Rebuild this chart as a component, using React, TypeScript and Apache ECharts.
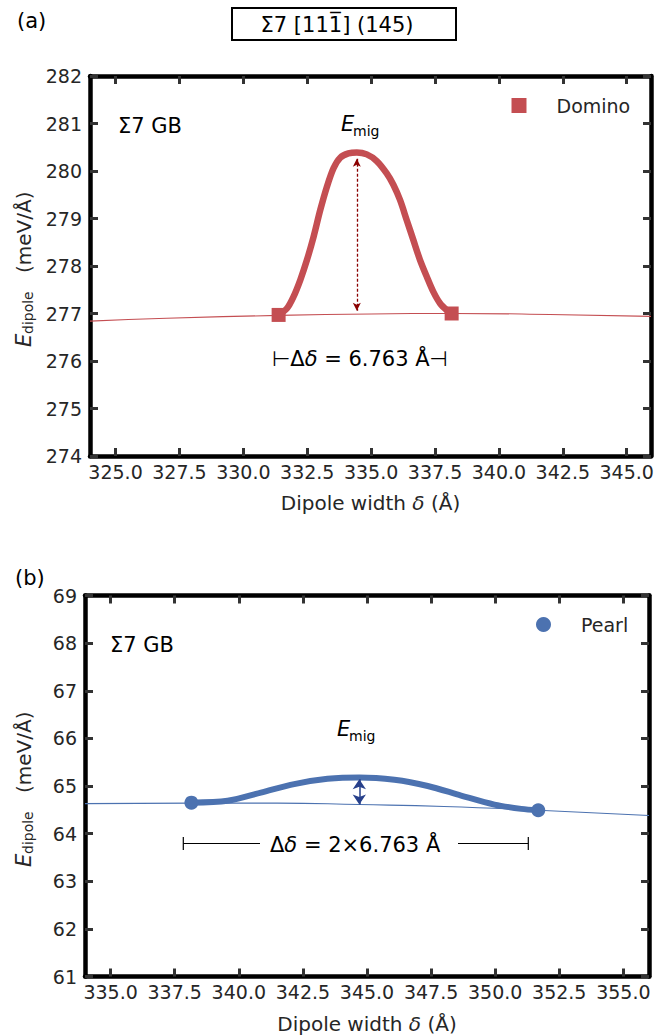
import React, { useEffect, useRef } from "react";
import * as echarts from "echarts";

const FONT = "'DejaVu Sans', sans-serif";
const RED = "#c44e52";
const BLUE = "#4c72b0";
const TICK_COLOR = "#333333";
const LABEL_COLOR = "#262626";

// ---------- Panel (a): Domino ----------
const xTicksA = [325, 327.5, 330, 332.5, 335, 337.5, 340, 342.5, 345];
const yTicksA = [274, 282];
const dominoEnds = [
  [331.38, 276.97],
  [338.15, 277.0],
];
const dominoCurve = [
  [331.38, 276.97],
  [331.71, 277.11],
  [331.96, 277.35],
  [332.23, 277.71],
  [332.49, 278.13],
  [332.75, 278.62],
  [333.01, 279.18],
  [333.27, 279.67],
  [333.53, 280.06],
  [333.79, 280.28],
  [334.11, 280.37],
  [334.44, 280.39],
  [334.83, 280.35],
  [335.22, 280.21],
  [335.61, 279.95],
  [335.87, 279.71],
  [336.13, 279.39],
  [336.39, 278.97],
  [336.65, 278.55],
  [336.91, 278.13],
  [337.18, 277.77],
  [337.43, 277.46],
  [337.7, 277.21],
  [337.96, 277.07],
  [338.15, 277.0],
];
const dominoFit = [
  [324.0, 276.84],
  [327.0, 276.9],
  [331.4, 276.96],
  [335.0, 276.99],
  [338.2, 277.0],
  [342.0, 276.98],
  [345.95, 276.94],
];
const dominoArrow = [334.44, 280.26, 277.06];

// ---------- Panel (b): Pearl ----------
const xTicksB = [335, 337.5, 340, 342.5, 345, 347.5, 350, 352.5, 355];
const yTicksB = [61, 69];
const pearlEnds = [
  [338.15, 64.65],
  [351.68, 64.49],
];
const pearlCurve = [
  [338.15, 64.65],
  [339.56, 64.69],
  [340.86, 64.86],
  [342.16, 65.04],
  [343.46, 65.15],
  [344.7, 65.18],
  [346.07, 65.13],
  [347.37, 65.0],
  [348.67, 64.8],
  [349.97, 64.61],
  [351.02, 64.52],
  [351.68, 64.49],
];
const pearlFit = [
  [334.0, 64.63],
  [338.15, 64.64],
  [341.5, 64.64],
  [344.7, 64.61],
  [348.0, 64.57],
  [351.7, 64.49],
  [356.0, 64.38],
];
const pearlArrow = [344.7, 65.14, 64.61];

const xRangeA = [324.0, 345.95];
const xRangeB = [334.0, 356.0];

function xAxes(gridIndex: number, range: number[], ticks: number[]) {
  const base = {
    type: "value",
    gridIndex,
    min: range[0],
    max: range[1],
    splitLine: { show: false },
    axisLine: { show: true, onZero: false, lineStyle: { color: "#000", width: 4.5 } },
    axisTick: {
      show: true,
      inside: true,
      length: 8,
      customValues: ticks,
      lineStyle: { color: TICK_COLOR, width: 3 },
    },
  };
  return [
    {
      ...base,
      position: "bottom",
      axisLabel: {
        show: true,
        customValues: ticks,
        margin: 6,
        fontSize: 19,
        fontFamily: FONT,
        color: LABEL_COLOR,
        formatter: (v: number) => v.toFixed(1),
      },
      name: "{a|Dipole width }{i|δ}{a| (Å)}",
      nameLocation: "middle",
      nameGap: 37,
      nameTextStyle: {
        fontSize: 20,
        fontFamily: FONT,
        color: LABEL_COLOR,
        rich: {
          a: { fontSize: 20, fontFamily: FONT, color: LABEL_COLOR },
          i: { fontSize: 20, fontFamily: FONT, color: LABEL_COLOR, fontStyle: "italic" },
        },
      },
    },
    { ...base, position: "top", axisLabel: { show: false } },
  ];
}

function yAxes(gridIndex: number, range: number[]) {
  const base = {
    type: "value",
    gridIndex,
    min: range[0],
    max: range[1],
    interval: 1,
    splitLine: { show: false },
    axisLine: { show: true, onZero: false, lineStyle: { color: "#000", width: 4.5 } },
    axisTick: { show: true, inside: true, length: 8, lineStyle: { color: TICK_COLOR, width: 3 } },
  };
  return [
    {
      ...base,
      position: "left",
      axisLabel: { show: true, margin: 8, fontSize: 19, fontFamily: FONT, color: LABEL_COLOR },
    },
    { ...base, position: "right", axisLabel: { show: false } },
  ];
}

function yLabel(cx: number, cy: number) {
  return {
    type: "group",
    x: cx,
    y: cy,
    rotation: Math.PI / 2,
    children: [
      {
        type: "text",
        x: -77,
        y: 0,
        style: {
          text: "E",
          fontSize: 21,
          fontStyle: "italic",
          fontFamily: FONT,
          fill: LABEL_COLOR,
          align: "left",
          verticalAlign: "middle",
        },
      },
      {
        type: "text",
        x: -64,
        y: 4,
        style: {
          text: "dipole",
          fontSize: 14,
          fontFamily: FONT,
          fill: LABEL_COLOR,
          align: "left",
          verticalAlign: "middle",
        },
      },
      {
        type: "text",
        x: -3,
        y: 0,
        style: {
          text: "(meV/Å)",
          fontSize: 20,
          fontFamily: FONT,
          fill: LABEL_COLOR,
          align: "left",
          verticalAlign: "middle",
        },
      },
    ],
  };
}

function emig(x: number, y: number) {
  return {
    type: "group",
    x,
    y,
    children: [
      {
        type: "text",
        x: 0,
        y: 0,
        style: {
          text: "E",
          fontSize: 21,
          fontStyle: "italic",
          fontFamily: FONT,
          fill: "#000",
          align: "left",
          verticalAlign: "middle",
        },
      },
      {
        type: "text",
        x: 12,
        y: 7,
        style: {
          text: "mig",
          fontSize: 14,
          fontFamily: FONT,
          fill: "#000",
          align: "left",
          verticalAlign: "middle",
        },
      },
    ],
  };
}

function txt(x: number, y: number, text: string, size: number, align = "left", extra: any = {}) {
  return {
    type: "text",
    x,
    y,
    style: {
      text,
      fontSize: size,
      fontFamily: FONT,
      fill: "#000",
      align,
      verticalAlign: "middle",
      ...extra,
    },
  };
}

const option: any = {
  animation: false,
  backgroundColor: "#ffffff",
  grid: [
    { left: 90, top: 76, width: 561, height: 380, outerBoundsMode: "none" },
    { left: 85, top: 595.5, width: 564, height: 381, outerBoundsMode: "none" },
  ],
  xAxis: [...xAxes(0, xRangeA, xTicksA), ...xAxes(1, xRangeB, xTicksB)],
  yAxis: [...yAxes(0, yTicksA), ...yAxes(1, yTicksB)],
  legend: [
    {
      data: [{ name: "Domino", icon: "rect", itemStyle: { color: RED, opacity: 1 } }],
      left: 511.5,
      top: 96,
      padding: 0,
      itemWidth: 15,
      itemHeight: 15,
      selectedMode: false,
      textStyle: { fontSize: 19, fontFamily: FONT, color: LABEL_COLOR, padding: [0, 0, 0, 25] },
    },
    {
      data: [{ name: "Pearl", icon: "circle", itemStyle: { color: BLUE, opacity: 1 } }],
      left: 536,
      top: 615,
      padding: 0,
      itemWidth: 15,
      itemHeight: 15,
      selectedMode: false,
      textStyle: { fontSize: 19, fontFamily: FONT, color: LABEL_COLOR, padding: [0, 0, 0, 25] },
    },
  ],
  series: [
    {
      name: "Domino fit",
      type: "line",
      xAxisIndex: 0,
      yAxisIndex: 0,
      data: dominoFit,
      smooth: true,
      showSymbol: false,
      silent: true,
      z: 2,
      lineStyle: { color: RED, width: 1.1 },
    },
    {
      name: "Domino path",
      type: "line",
      xAxisIndex: 0,
      yAxisIndex: 0,
      data: dominoCurve,
      smooth: 0.3,
      showSymbol: false,
      silent: true,
      z: 3,
      lineStyle: { color: RED, width: 6.5, cap: "round" },
      markLine: {
        silent: true,
        symbol: ["arrow", "arrow"],
        symbolSize: [6, 8],
        label: { show: false },
        lineStyle: { color: "#8b0000", width: 1.3, type: [3, 2] },
        data: [
          [
            { coord: [dominoArrow[0], dominoArrow[1]] },
            { coord: [dominoArrow[0], dominoArrow[2]] },
          ],
        ],
      },
    },
    {
      name: "Domino",
      type: "scatter",
      xAxisIndex: 0,
      yAxisIndex: 0,
      data: dominoEnds,
      symbol: "rect",
      symbolSize: 14,
      z: 4,
      itemStyle: { color: RED, opacity: 1 },
    },
    {
      name: "Pearl fit",
      type: "line",
      xAxisIndex: 2,
      yAxisIndex: 2,
      data: pearlFit,
      smooth: true,
      showSymbol: false,
      silent: true,
      z: 2,
      lineStyle: { color: BLUE, width: 1.1 },
    },
    {
      name: "Pearl path",
      type: "line",
      xAxisIndex: 2,
      yAxisIndex: 2,
      data: pearlCurve,
      smooth: 0.3,
      showSymbol: false,
      silent: true,
      z: 3,
      lineStyle: { color: BLUE, width: 6, cap: "round" },
      markLine: {
        silent: true,
        symbol: ["arrow", "arrow"],
        symbolSize: [10, 10],
        label: { show: false },
        lineStyle: { color: "#27408b", width: 1.5, type: "solid" },
        data: [
          [
            { coord: [pearlArrow[0], pearlArrow[1]] },
            { coord: [pearlArrow[0], pearlArrow[2]] },
          ],
        ],
      },
    },
    {
      name: "Pearl",
      type: "scatter",
      xAxisIndex: 2,
      yAxisIndex: 2,
      data: pearlEnds,
      symbol: "circle",
      symbolSize: 14,
      z: 4,
      itemStyle: { color: BLUE, opacity: 1 },
    },
  ],
  graphic: [
    txt(17, 21, "(a)", 21),
    {
      type: "rect",
      shape: { x: 232, y: 8, width: 224, height: 32 },
      style: { fill: "none", stroke: "#000", lineWidth: 2 },
    },
    txt(337, 25, "Σ7 [111\u0305] (145)", 21, "center"),
    txt(118, 126, "Σ7 GB", 21),
    emig(341, 124),
    {
      type: "text",
      x: 272,
      y: 359,
      style: {
        text: "{n|⊢Δ}{i|δ}{n| = 6.763 Å⊣}",
        fontSize: 21,
        fontFamily: FONT,
        fill: "#000",
        align: "left",
        verticalAlign: "middle",
        rich: {
          n: { fontSize: 21, fontFamily: FONT, fill: "#000" },
          i: { fontSize: 21, fontFamily: FONT, fill: "#000", fontStyle: "italic" },
        },
      },
    },
    yLabel(24, 270),

    txt(15, 578, "(b)", 21),
    txt(110, 645, "Σ7 GB", 21),
    emig(337, 729),
    {
      type: "line",
      shape: { x1: 183.3, y1: 843.5, x2: 260, y2: 843.5 },
      style: { stroke: "#000", lineWidth: 1.2 },
    },
    {
      type: "line",
      shape: { x1: 458, y1: 843.5, x2: 528.3, y2: 843.5 },
      style: { stroke: "#000", lineWidth: 1.2 },
    },
    {
      type: "line",
      shape: { x1: 183.3, y1: 837, x2: 183.3, y2: 850 },
      style: { stroke: "#000", lineWidth: 1.2 },
    },
    {
      type: "line",
      shape: { x1: 528.3, y1: 837, x2: 528.3, y2: 850 },
      style: { stroke: "#000", lineWidth: 1.2 },
    },
    {
      type: "text",
      x: 270,
      y: 845,
      style: {
        text: "{n|Δ}{i|δ}{n| = 2×6.763 Å}",
        fontSize: 21,
        fontFamily: FONT,
        fill: "#000",
        align: "left",
        verticalAlign: "middle",
        rich: {
          n: { fontSize: 21, fontFamily: FONT, fill: "#000" },
          i: { fontSize: 21, fontFamily: FONT, fill: "#000", fontStyle: "italic" },
        },
      },
    },
    yLabel(24, 790),
  ],
};

export default function App() {
  const ref = useRef<HTMLDivElement>(null);
  useEffect(() => {
    if (!ref.current) return;
    const chart = echarts.init(ref.current, null, { renderer: "svg" });
    chart.setOption(option);
    return () => chart.dispose();
  }, []);
  return (
    <div
      ref={ref}
      style={{ position: "absolute", left: 0, top: 0, width: 667, height: 1036, background: "#fff" }}
    />
  );
}
